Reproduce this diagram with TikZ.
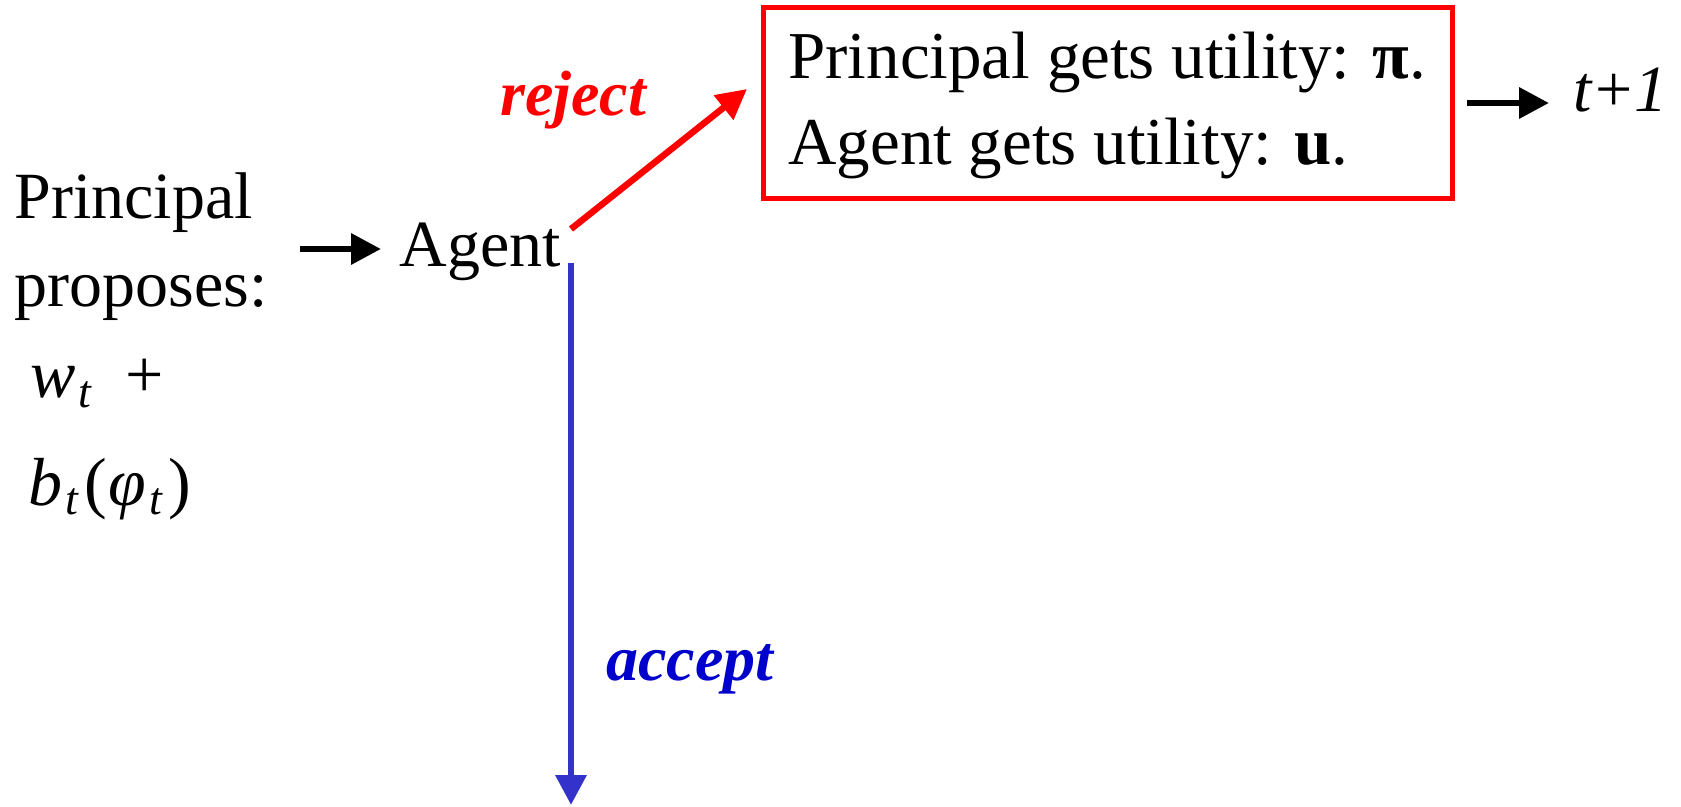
\documentclass[tikz,border=0pt]{standalone}
\usepackage{fontspec}
\setmainfont{Liberation Serif}
\usetikzlibrary{arrows.meta}
\definecolor{boxred}{RGB}{255,0,0}
\definecolor{linkblue}{RGB}{51,51,204}
\definecolor{labelblue}{RGB}{0,0,204}
% italic subscript t
\newcommand{\subt}{\kern1.5pt\raisebox{-5pt}{\fontsize{23}{23}\selectfont\itshape t}}

\begin{document}
\begin{tikzpicture}[x=0.5pt,y=-0.5pt,
  txt/.style={anchor=base west, inner sep=0pt, font=\fontsize{33}{40}\selectfont},
  formula/.style={anchor=base west, inner sep=0pt, font=\fontsize{34}{40}\selectfont},
  flow/.style={line width=3.25pt, -{Triangle[length=15pt,width=15pt]}},
  choice/.style={anchor=base west, inner sep=0pt, font=\fontsize{32}{38}\selectfont\bfseries\itshape},
  outcome/.style={draw=boxred, line width=2.5pt, minimum width=344.5pt, minimum height=95.75pt, inner sep=0pt}
]
\useasboundingbox (0,0) rectangle (1681,807);

% proposal of the principal
\node[txt] (p1) at (14,219) {Principal};
\node[txt] (p2) at (14,307) {proposes:};
\node[formula] (p3) at (30,398) {\textit{w}\subt\hspace{17pt}+};
\node[formula] (p4) at (28,505) {\textit{b}\subt\kern3pt(\kern1pt\textit{φ}\subt\kern3pt)};

% agent
\node[txt] (agent) at (399,267) {Agent};
\coordinate (a0) at (300,249);
\draw[flow] (a0) -- (a0 -| 381,0);

% reject branch
\coordinate (r0) at (571,229);
\coordinate (r1) at (747,89);
\draw[flow, boxred] (r0) -- (r1);
\node[choice, text=boxred] (rej) at (500,116) {reject};

\node[outcome] (box) at (1107.5,103.25) {};
\node[txt, font=\fontsize{33.5}{40}\selectfont] (u1) at (788,79) {Principal gets utility: \textbf{π}.};
\node[txt, font=\fontsize{33.5}{40}\selectfont] (u2) at (788,165) {Agent gets utility: \textbf{u}.};

\coordinate (n0) at (1467,103);
\coordinate (n1) at (1549,103);
\draw[flow] (n0) -- (n1);
\node[txt] (next) at (1573,112) {\textit{t}\kern1pt+\kern1pt\textit{1}};

% accept branch
\coordinate (b0) at (571,263);
\coordinate (b1) at (571,805);
\draw[flow, linkblue] (b0) -- (b1);
\node[choice, text=labelblue] (acc) at (606,680) {accept};
\end{tikzpicture}
\end{document}
